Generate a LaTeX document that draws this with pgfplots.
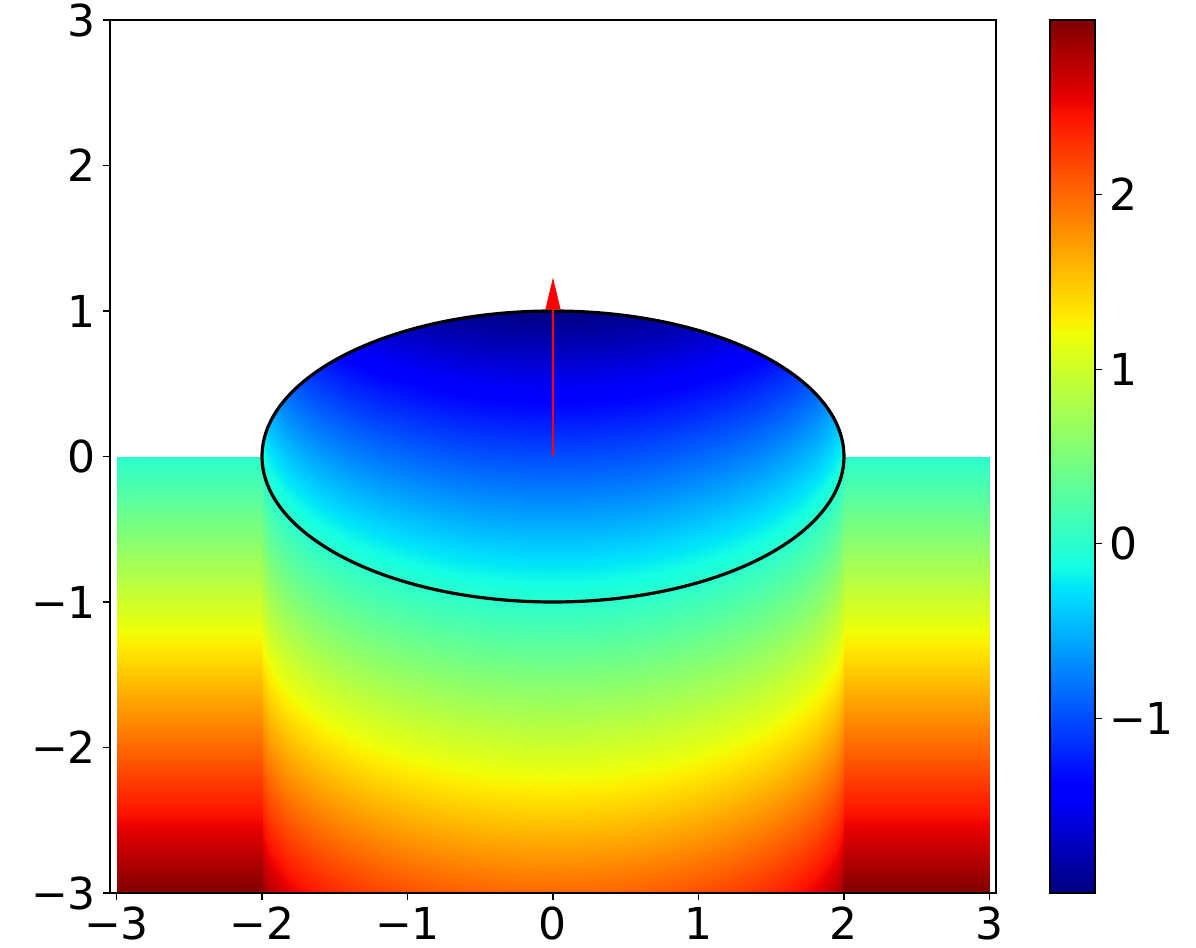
\documentclass[border=0pt]{standalone}
\usepackage{fontspec}
\setmainfont{DejaVu Sans}
\usepackage{pgfplots}
\usepackage{pgfplotstable}
\pgfplotsset{compat=1.18}
\pgfplotsset{colormap={mpljet}{
 rgb(0pt)=(0,0,0.5)
 rgb(11pt)=(0,0,1)
 rgb(12.5pt)=(0,0,1)
 rgb(34pt)=(0,0.86,1)
 rgb(35pt)=(0,0.9,0.968)
 rgb(37.5pt)=(0.081,1,0.887)
 rgb(64pt)=(0.935,1,0.032)
 rgb(65pt)=(0.968,0.963,0)
 rgb(66pt)=(1,0.926,0)
 rgb(89pt)=(1,0.074,0)
 rgb(91pt)=(0.909,0,0)
 rgb(100pt)=(0.5,0,0)
}}
\pgfplotstableread{
x y v
-3 -3 3
-2 -3 3
-1.99 -3 2.9001
-1.98 -3 2.8589
-1.97 -3 2.8274
-1.95 -3 2.7778
-1.92 -3 2.72
-1.9 -3 2.6878
-1.85 -3 2.62
-1.8 -3 2.5641
-1.7 -3 2.4732
-1.6 -3 2.4
-1.5 -3 2.3386
-1.4 -3 2.2859
-1.2 -3 2.2
-1.0 -3 2.134
-0.8 -3 2.0835
-0.6 -3 2.0461
-0.4 -3 2.0202
-0.2 -3 2.005
0 -3 2
0.2 -3 2.005
0.4 -3 2.0202
0.6 -3 2.0461
0.8 -3 2.0835
1.0 -3 2.134
1.2 -3 2.2
1.4 -3 2.2859
1.5 -3 2.3386
1.6 -3 2.4
1.7 -3 2.4732
1.8 -3 2.5641
1.85 -3 2.62
1.9 -3 2.6878
1.92 -3 2.72
1.95 -3 2.7778
1.97 -3 2.8274
1.98 -3 2.8589
1.99 -3 2.9001
2 -3 3
3 -3 3
-3 0 0
-2 0 0
-1.99 0.0999 -0.1998
-1.98 0.1411 -0.2822
-1.97 0.1726 -0.3452
-1.95 0.2222 -0.4444
-1.92 0.28 -0.56
-1.9 0.3122 -0.6244
-1.85 0.38 -0.76
-1.8 0.4359 -0.8718
-1.7 0.5268 -1.0536
-1.6 0.6 -1.2
-1.5 0.6614 -1.3229
-1.4 0.7141 -1.4283
-1.2 0.8 -1.6
-1.0 0.866 -1.7321
-0.8 0.9165 -1.833
-0.6 0.9539 -1.9079
-0.4 0.9798 -1.9596
-0.2 0.995 -1.99
0 1 -2
0.2 0.995 -1.99
0.4 0.9798 -1.9596
0.6 0.9539 -1.9079
0.8 0.9165 -1.833
1.0 0.866 -1.7321
1.2 0.8 -1.6
1.4 0.7141 -1.4283
1.5 0.6614 -1.3229
1.6 0.6 -1.2
1.7 0.5268 -1.0536
1.8 0.4359 -0.8718
1.85 0.38 -0.76
1.9 0.3122 -0.6244
1.92 0.28 -0.56
1.95 0.2222 -0.4444
1.97 0.1726 -0.3452
1.98 0.1411 -0.2822
1.99 0.0999 -0.1998
2 0 0
3 0 0
}\fieldtable
\pgfplotstableread{
x y v
0 -2 -2
1 -2 -2
0 3 3
1 3 3
}\cbtable
\begin{document}
\begin{tikzpicture}
\path[use as bounding box] (-55pt,-27.5pt) rectangle (543pt,446.5pt);
\begin{axis}[
  at={(0,0)}, anchor=south west,
  scale only axis, width=443pt, height=436.5pt,
  xmin=-3.045, xmax=3.045, ymin=-3, ymax=3,
  xtick={-3,-2,-1,0,1,2,3},
  xticklabels={−3,−2,−1,0,1,2,3},
  ytick={-3,-2,-1,0,1,2,3},
  yticklabels={−3,−2,−1,0,1,2,3},
  tick pos=left,
  tick align=outside,
  major tick length=3.5pt,
  tick style={black, line width=0.8pt},
  tick label style={font=\fontsize{22}{26}\selectfont},
  axis line style={line width=0.8pt},
  axis on top,
  colormap name=mpljet,
  point meta min=-2, point meta max=3,
]
\addplot[surf, shader=interp, point meta=explicit, mesh/rows=2] table[x=x, y=y, meta=v] {\fieldtable};
\draw[black, line width=1.6pt] (axis cs:0,0) ellipse [x radius=2, y radius=1];
\addplot[red, line width=1pt] coordinates {(0,0) (0,1.012)};
\addplot[fill=red, draw=none] coordinates {(-0.052,1.012) (0.052,1.012) (0,1.23)} --cycle;
\end{axis}
\begin{axis}[
  at={(470pt,0)}, anchor=south west,
  scale only axis, width=22.5pt, height=436.5pt,
  xmin=0, xmax=1, ymin=-2, ymax=3,
  xtick=\empty,
  ytick={-1,0,1,2},
  yticklabels={−1,0,1,2},
  ytick pos=right, yticklabel pos=right,
  tick align=outside,
  major tick length=3.5pt,
  tick style={black, line width=0.6pt},
  yticklabel style={font=\fontsize{22}{26}\selectfont},
  axis line style={line width=0.6pt},
  axis on top,
  colormap name=mpljet,
  point meta min=-2, point meta max=3,
]
\addplot[surf, shader=interp, point meta=explicit, mesh/rows=2] table[x=x, y=y, meta=v] {\cbtable};
\end{axis}
\end{tikzpicture}
\end{document}
